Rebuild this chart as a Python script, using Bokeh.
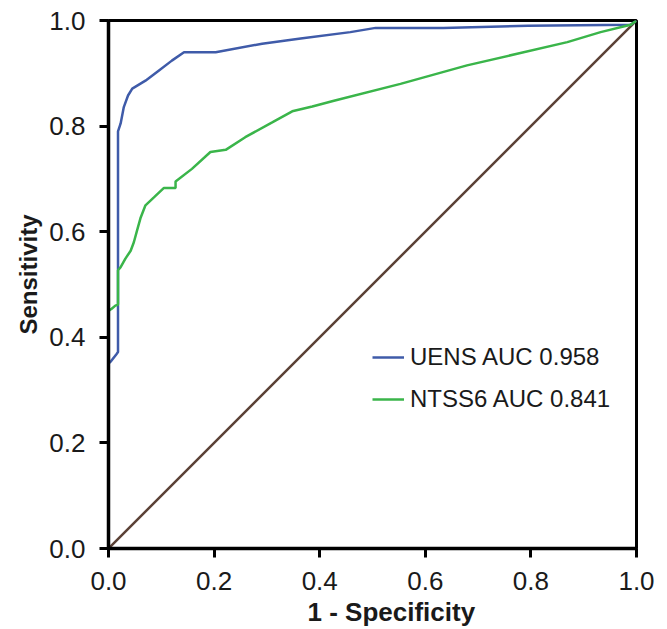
from bokeh.plotting import figure
from bokeh.models import Range1d, FixedTicker, Legend, LegendItem, Title
from bokeh.embed import file_html
from bokeh.resources import INLINE

# UENS ROC curve (1 - specificity, sensitivity)
uens_fpr = [0.0, 0.005, 0.015, 0.018, 0.018, 0.023, 0.029, 0.037, 0.045, 0.070, 0.095,
            0.120, 0.143, 0.203, 0.291, 0.364, 0.458, 0.506, 0.634, 0.794, 0.989, 1.0]
uens_tpr = [0.350, 0.355, 0.368, 0.372, 0.790, 0.805, 0.836, 0.858, 0.871, 0.886, 0.905,
            0.924, 0.940, 0.940, 0.956, 0.966, 0.978, 0.986, 0.986, 0.990, 0.992, 1.0]

# NTSS6 ROC curve
ntss_fpr = [0.0, 0.006, 0.013, 0.018, 0.018, 0.023, 0.032, 0.042, 0.048, 0.054, 0.061,
            0.070, 0.086, 0.105, 0.127, 0.127, 0.158, 0.193, 0.222, 0.259, 0.310, 0.348,
            0.386, 0.427, 0.553, 0.679, 0.774, 0.869, 0.932, 0.989, 1.0]
ntss_tpr = [0.450, 0.454, 0.460, 0.462, 0.527, 0.533, 0.549, 0.564, 0.580, 0.602, 0.627,
            0.650, 0.665, 0.683, 0.683, 0.695, 0.719, 0.751, 0.755, 0.779, 0.807, 0.828,
            0.837, 0.848, 0.880, 0.915, 0.937, 0.959, 0.978, 0.992, 1.0]

ref_x = [0.0, 1.0]
ref_y = [0.0, 1.0]

ticks = [0.0, 0.2, 0.4, 0.6, 0.8, 1.0]
tick_labels = ["0.0", "0.2", "0.4", "0.6", "0.8", "1.0"]
legend_labels = ["UENS AUC 0.958", "NTSS6 AUC 0.841"]
x_title = "1 - Specificity"
y_title = "Sensitivity"

p = figure(frame_width=528, frame_height=528, output_backend="svg", toolbar_location=None,
           x_range=Range1d(0, 1), y_range=Range1d(0, 1),
           min_border_left=108, min_border_right=31, min_border_top=20, min_border_bottom=60)

p.grid.visible = False
p.outline_line_color = "black"
p.outline_line_width = 3
p.background_fill_color = "white"
p.border_fill_color = "white"

FONT = "Liberation Sans"
for ax in (p.xaxis[0], p.yaxis[0]):
    ax.ticker = FixedTicker(ticks=ticks)
    ax.major_label_overrides = {t: l for t, l in zip(ticks, tick_labels)}
    ax.minor_tick_line_color = None
    ax.axis_line_width = 3.5
    ax.axis_line_color = "black"
    ax.major_tick_line_width = 3
    ax.major_tick_line_color = "black"
    ax.major_tick_out = 9
    ax.major_tick_in = 0
    ax.major_label_text_font = FONT
    ax.major_label_text_font_size = "26px"
    ax.major_label_text_color = "#1a1a1a"

p.xaxis.major_label_standoff = 14
p.yaxis.major_label_standoff = 14

# axis titles (slightly off-centre, as in the original)
p.add_layout(Title(text=x_title, align="left", offset=199, standoff=5,
                   text_font=FONT, text_font_size="26px", text_font_style="bold",
                   text_color="#1a1a1a"), "below")
p.add_layout(Title(text=y_title, align="left", offset=214, standoff=9,
                   text_font=FONT, text_font_size="24px", text_font_style="bold",
                   text_color="#1a1a1a"), "left")

p.line(ref_x, ref_y, line_color="#5a4035", line_width=2.5)
r1 = p.line(uens_fpr, uens_tpr, line_color="#3f5ba9", line_width=2.5)
r2 = p.line(ntss_fpr, ntss_tpr, line_color="#3ab54a", line_width=2.5)

legend = Legend(items=[LegendItem(label=legend_labels[0], renderers=[r1]),
                       LegendItem(label=legend_labels[1], renderers=[r2])],
                location=(264, 135))
legend.background_fill_alpha = 0
legend.border_line_color = None
legend.label_text_font = FONT
legend.label_text_font_size = "24px"
legend.label_text_color = "#1a1a1a"
legend.glyph_width = 32
legend.glyph_height = 24
legend.label_height = 24
legend.label_standoff = 6
legend.spacing = 14
legend.padding = 0
legend.margin = 0
p.add_layout(legend, "center")

open("out.html", "w").write(file_html(p, INLINE))
